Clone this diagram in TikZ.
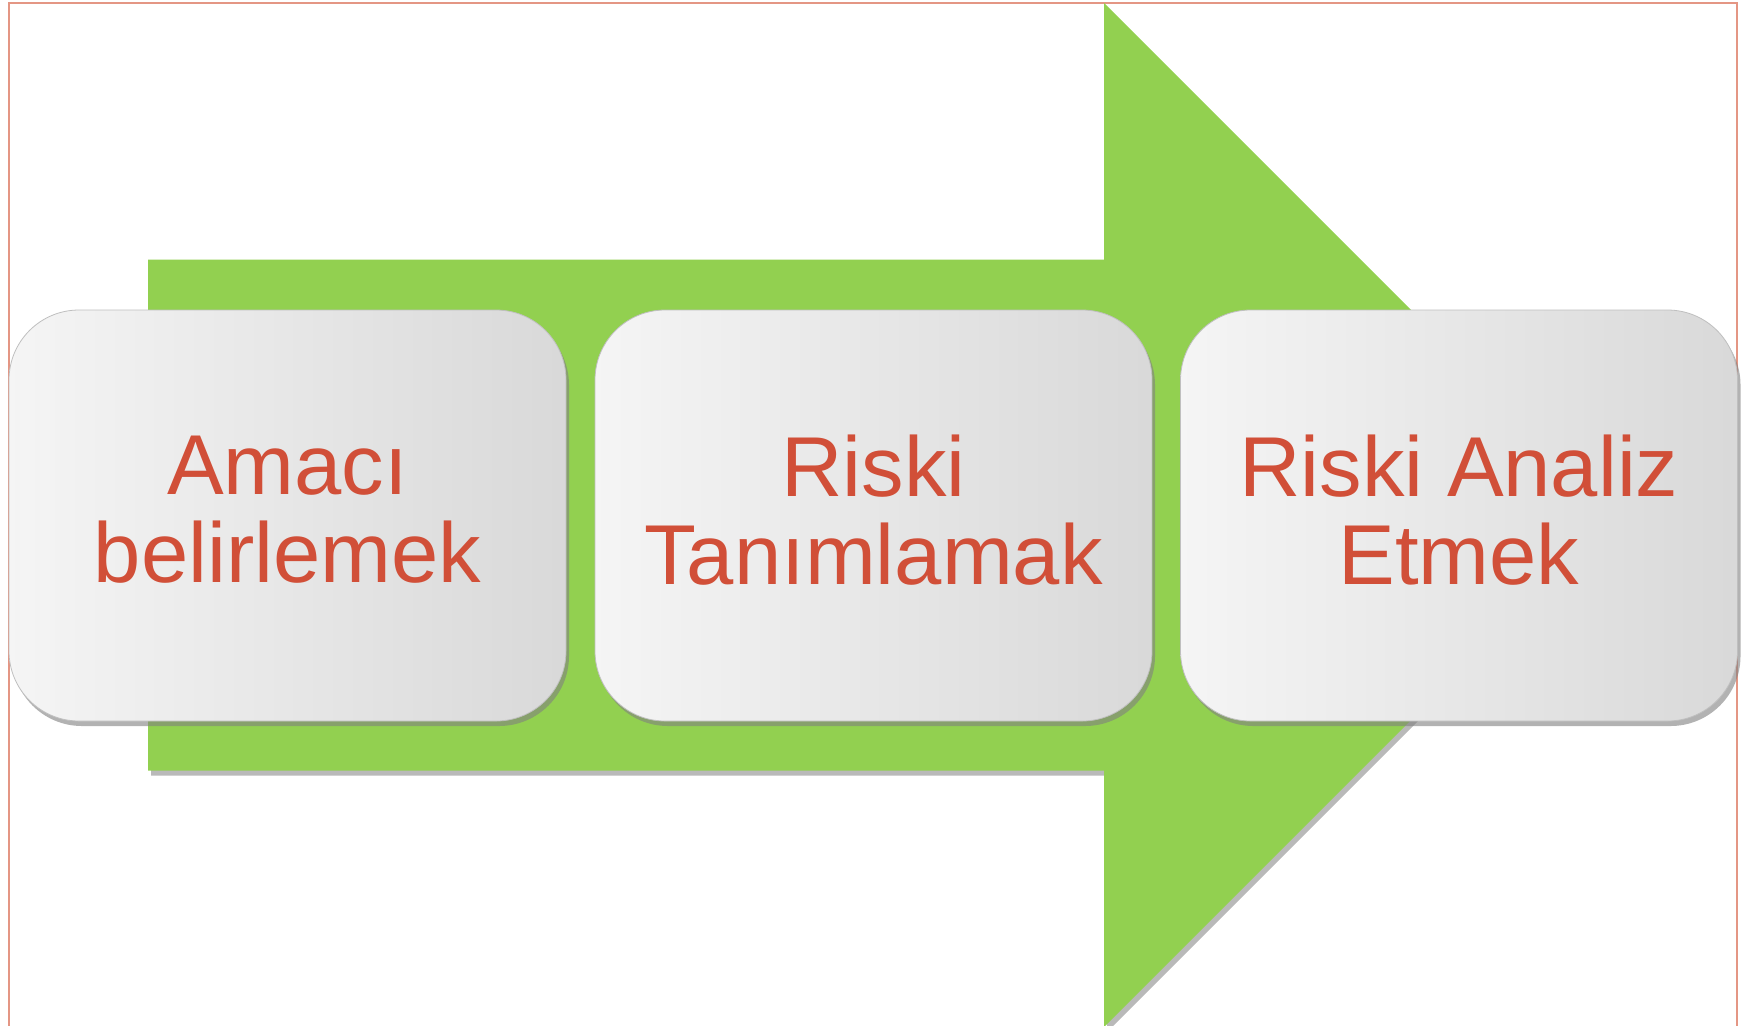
\documentclass[tikz,border=0pt]{standalone}
\usepackage{fontspec}
\setmainfont{Liberation Sans}
\usetikzlibrary{shadows}
\definecolor{stepgreen}{RGB}{146,208,80}
\definecolor{steptext}{RGB}{209,79,56}
\definecolor{framecol}{RGB}{228,150,132}
\begin{document}
\begin{tikzpicture}[x=0.5pt,y=-0.5pt,
    stepbox/.style = {rounded corners=35pt, minimum width=278.5pt, minimum height=205.5pt,
                      left color=white!96!black, right color=black!15, draw=black!25, line width=0.4pt,
                      drop shadow={shadow xshift=1.5pt, shadow yshift=-2.5pt, opacity=0.6},
                      text=steptext, align=center, text depth=6pt, font=\fontsize{42.5}{44}\selectfont},
    bigarrow/.style = {fill=stepgreen, drop shadow={shadow xshift=1.5pt, shadow yshift=-2.5pt, opacity=0.55}}]
    \clip (0,0) rectangle (1754,1025);
    \fill[white] (0,0) rectangle (1754,1025);

    % frame
    \draw[framecol, line width=1pt] (9,3) rectangle (1737,1060);

    % green arrow behind the steps
    \path[bigarrow] (148,259.5) -- (1104,259.5) -- (1104,3) -- (1616,515) -- (1104,1027)
                    -- (1104,770.5) -- (148,770.5) -- cycle;

    % steps
    \node[stepbox] (amac)   at (287.5,515.5) {Amacı\\belirlemek};
    \node[stepbox] (tanim)  at (873.5,515.5) {Riski\\Tanımlamak};
    \node[stepbox] (analiz) at (1459,515.5)  {Riski Analiz\\Etmek};
\end{tikzpicture}
\end{document}
